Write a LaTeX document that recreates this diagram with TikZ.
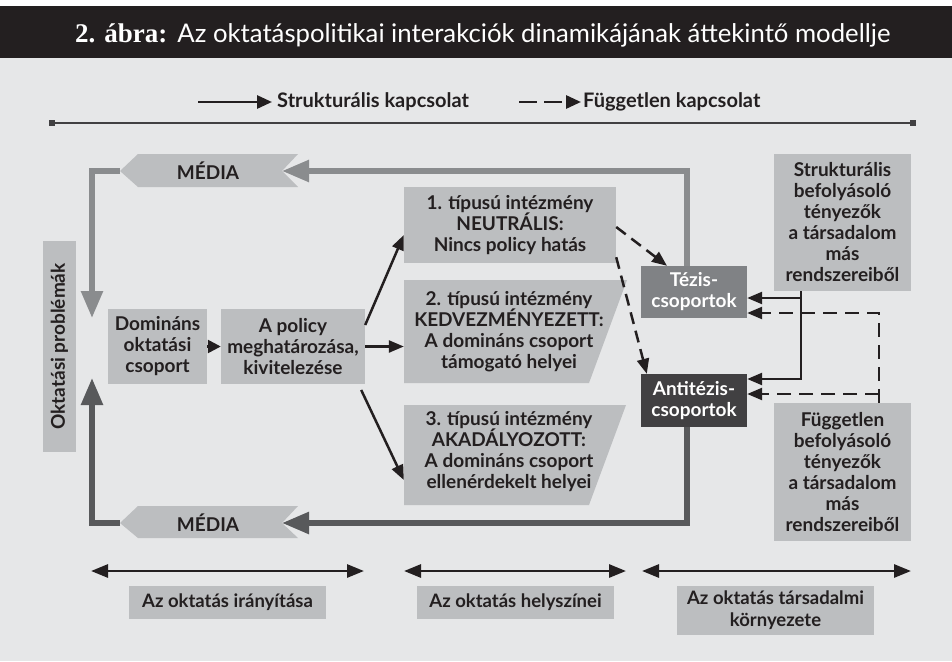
\documentclass[tikz,border=0pt]{standalone}
\usepackage{fontspec}
\setmainfont{Lato}
\newfontfamily\serifbold{Liberation Serif}
\usetikzlibrary{arrows.meta,calc}
\definecolor{bg}{HTML}{E6E7E8}
\definecolor{bar}{HTML}{231F20}
\definecolor{ink}{HTML}{231F20}
\definecolor{lgray}{HTML}{BCBEC0}
\definecolor{tezc}{HTML}{808285}
\definecolor{antc}{HTML}{414042}
\definecolor{toplc}{HTML}{8A8C8E}
\definecolor{botlc}{HTML}{58595B}
\definecolor{rulec}{HTML}{414042}
\newcommand{\bodyfnt}{\bfseries\fontsize{19}{21}\selectfont}
\begin{document}
\begin{tikzpicture}[x=1pt,y=-1pt,
  lbox/.style={fill=lgray, inner sep=0pt, align=center, font=\bodyfnt, text=ink},
  tbox/.style={inner sep=0pt, align=center, font=\bodyfnt, text=ink},
  dbox/.style={inner sep=0pt, align=center, font=\bodyfnt, text=white},
  blk/.style={draw=ink, line width=2.5pt, -{Triangle[length=15pt,width=12pt]}},
  dsh/.style={blk, dash pattern=on 12pt off 7pt},
  dbl/.style={draw=ink, line width=2.8pt, {Triangle[length=17pt,width=13pt]}-{Triangle[length=17pt,width=13pt]}},
  toploop/.style={draw=toplc, line width=5.5pt, -{Triangle[length=27pt,width=21pt]}},
  botloop/.style={draw=botlc, line width=5.5pt, -{Triangle[length=27pt,width=21pt]}},
  lgtext/.style={inner sep=0pt, font=\bfseries\fontsize{20}{22}\selectfont, text=ink},
  labbox/.style={lbox, font=\bfseries\fontsize{18.5}{22}\selectfont}
]
\useasboundingbox (0,0) rectangle (952,661);
\fill[white] (0,0) rectangle (952,661);
\fill[bg] (0,58) rectangle (952,661);
\fill[bar] (0,6) rectangle (952,58);

% title
\node[anchor=base west, text=white, inner sep=0pt] (title) at (75,42)
  {{\serifbold\bfseries\fontsize{27}{30}\selectfont 2. ábra:}\hspace{10pt}{\fontsize{25.7}{30}\selectfont Az oktatáspolitikai interakciók dinamikájának áttekintő modellje}};

% legend
\node[lgtext, anchor=west] (ls) at (277,102) {Strukturális kapcsolat};
\node[lgtext, anchor=west] (lf) at (583,102) {Független kapcsolat};
\coordinate (ls0) at (198,102);
\coordinate (lf0) at (519,102);
\draw[blk, line width=2.8pt, -{Triangle[length=15pt,width=13pt]}] (ls0) -- ([xshift=-5pt]ls.west);
\draw[blk, line width=2.8pt, -{Triangle[length=15pt,width=13pt]}, dash pattern=on 18pt off 7pt] (lf0) -- ([xshift=-2pt]lf.west);
\draw[draw=rulec, line width=1.6pt] (52,123) -- (913,123);
\fill[rulec] (49,120) rectangle (55,126);
\fill[rulec] (910,120) rectangle (916,126);

% MEDIA shapes
\fill[lgray] (120,171) -- (138,154) -- (298,154) -- (282,171) -- (298,187) -- (138,187) -- cycle;
\fill[lgray] (120,523) -- (138,506) -- (298,506) -- (282,523) -- (298,538) -- (138,538) -- cycle;
\node[tbox] (mtop) at (208,171) {MÉDIA};
\node[tbox] (mbot) at (208,523) {MÉDIA};
\coordinate (mtopR) at (282,171);
\coordinate (mtopL) at (120,171);
\coordinate (mbotR) at (282,523);
\coordinate (mbotL) at (120,523);

% parallelogram boxes
\fill[lgray] (404,280) -- (627,280) -- (589,383) -- (404,383) -- cycle;
\fill[lgray] (404,405) -- (626,405) -- (589,505) -- (404,505) -- cycle;

% nodes
\node[lbox, rotate=90, minimum width=211pt, minimum height=33pt] (okt) at (59.5,346.5) {Oktatási problémák};
\node[lbox, minimum width=99pt, minimum height=75pt] (dom) at (157.5,346.5) {Domináns\\oktatási\\csoport};
\node[lbox, minimum width=144pt, minimum height=75pt] (pol) at (293,346.5) {A policy\\meghatározása,\\kivitelezése};
\node[lbox, minimum width=212pt, minimum height=76pt] (b1) at (510,225) {1. típusú intézmény\\NEUTRÁLIS:\\Nincs policy hatás};
\node[tbox, minimum width=210pt, minimum height=103pt] (b2) at (509,331.5) {2. típusú intézmény\\KEDVEZMÉNYEZETT:\\A domináns csoport\\támogató helyei};
\node[tbox, minimum width=210pt, minimum height=100pt] (b3) at (509,452) {3. típusú intézmény\\AKADÁLYOZOTT:\\A domináns csoport\\ellenérdekelt helyei};
\node[dbox, fill=tezc, minimum width=106pt, minimum height=52pt] (tez) at (694,292) {Tézis-\\csoportok};
\node[dbox, fill=antc, minimum width=106pt, minimum height=53pt] (ant) at (694,400.5) {Antitézis-\\csoportok};
\node[lbox, minimum width=137pt, minimum height=137pt] (str) at (842.5,222.5) {Strukturális\\befolyásoló\\tényezők\\a társadalom\\más\\rendszereiből};
\node[lbox, minimum width=137pt, minimum height=138pt] (fug) at (842.5,472) {Független\\befolyásoló\\tényezők\\a társadalom\\más\\rendszereiből};

% loops
\coordinate (okttop) at (92,318);
\coordinate (oktbot) at (92,378);
\draw[toploop] ([xshift=-7pt]tez.north) |- (mtopR);
\draw[toploop] (mtopL) -| (okttop);
\draw[botloop] ([xshift=-7pt]ant.south) |- (mbotR);
\draw[botloop] (mbotL) -| (oktbot);

% policy arrows
\draw[blk, -{Triangle[length=13pt,width=13pt]}] (dom.east) -- (pol.west);
\draw[blk] ([yshift=21.5pt]pol.east) -- ([yshift=-10pt]b1.west);
\draw[blk] (pol.east) -- (pol.east -| b2.west);
\draw[blk] ([xshift=-4pt,yshift=-43.5pt]pol.east) -- ([yshift=-28pt]b3.west);

% dashed from box 1
\draw[dsh] ([yshift=-2pt]b1.east) -- ([xshift=-27pt]tez.north);
\draw[dsh] ([yshift=6pt]b1.south east) -- ([xshift=6pt]ant.north west);

% structural connectors
\coordinate (sv) at ([xshift=-41.5pt]str.south);
\coordinate (tin) at ([yshift=-6pt]tez.east);
\coordinate (ain) at ([yshift=21.5pt]ant.east);
\draw[blk] (sv) |- (ain);
\draw[blk] (sv |- tin) -- (tin);

% independent connectors
\coordinate (fv) at ([xshift=36.5pt]fug.north);
\coordinate (tin2) at ([yshift=-21pt]tez.east);
\coordinate (ain2) at ([yshift=6.5pt]ant.east);
\draw[dsh, dash pattern=on 14pt off 8pt] (fv) |- (tin2);
\draw[dsh, dash pattern=on 14pt off 8pt] (fv |- ain2) -- (ain2);

% bottom scale
\node[labbox, minimum width=197pt, minimum height=33pt] (lab1) at (227.5,602.5) {Az oktatás irányítása};
\node[labbox, minimum width=197pt, minimum height=33pt] (lab2) at (515.5,602.5) {Az oktatás helyszínei};
\node[labbox, minimum width=197pt, minimum height=49pt] (lab3) at (775.5,610.5) {Az oktatás társadalmi\\környezete};
\coordinate (a1l) at (91,571);
\coordinate (a1r) at (364,571);
\coordinate (a2l) at (404,571);
\coordinate (a2r) at (626,571);
\coordinate (a3l) at (642,571);
\coordinate (a3r) at (911,571);
\draw[dbl] (a1l) -- (a1r);
\draw[dbl] (a2l) -- (a2r);
\draw[dbl] (a3l) -- (a3r);
\end{tikzpicture}
\end{document}
